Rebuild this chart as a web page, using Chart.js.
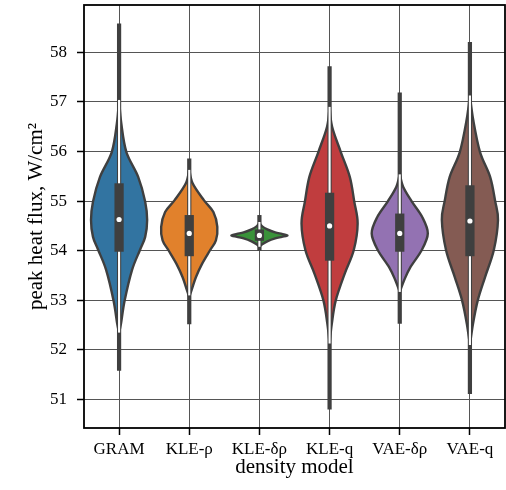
<!DOCTYPE html>
<html><head><meta charset="utf-8">
<script src="https://cdn.jsdelivr.net/npm/chart.js@4.4.0/dist/chart.umd.min.js"></script>
<style>html,body{margin:0;padding:0;background:#fff}</style>
</head><body>
<canvas id="c" width="506" height="490"></canvas>
<script>
// ---- data ----
const categories = ['GRAM', 'KLE-ρ', 'KLE-δρ', 'KLE-q', 'VAE-δρ', 'VAE-q'];
const medians   = [54.63, 54.35, 54.31, 54.50, 54.35, 54.60];
const q1        = [53.98, 53.89, 54.20, 53.80, 53.98, 53.89];
const q3        = [55.36, 54.72, 54.43, 55.17, 54.75, 55.32];
const innerLow  = [52.35, 53.10, 54.08, 52.13, 53.17, 52.10];
const innerHigh = [57.04, 55.63, 54.58, 56.90, 55.54, 57.13];
const dataMin   = [51.58, 52.52, 54.00, 50.80, 52.53, 51.11];
const dataMax   = [58.58, 55.86, 54.72, 57.72, 57.19, 58.21];
const yTicks    = [51, 52, 53, 54, 55, 56, 57, 58];

// violin density profiles (value, relative half-width)
const gramY = [57.04, 56.56, 55.99, 55.49, 54.99, 54.62, 54.28, 54.01, 53.61, 53.00, 52.54, 52.35];
const gramW = [0, 0.08, 0.26, 0.68, 0.93, 1.0, 0.93, 0.74, 0.46, 0.20, 0.07, 0];
const klerY = [55.65, 55.36, 55.02, 54.78, 54.48, 54.21, 54.01, 53.74, 53.47, 53.20, 53.07];
const klerW = [0, 0.12, 0.52, 0.86, 1.0, 0.95, 0.74, 0.46, 0.24, 0.08, 0];
const kledY = [54.56, 54.49, 54.43, 54.37, 54.34, 54.31, 54.28, 54.25, 54.19, 54.13, 54.08];
const kledW = [0, 0.10, 0.28, 0.56, 0.80, 1.0, 0.80, 0.56, 0.28, 0.10, 0];
const kleqY = [56.90, 56.50, 55.99, 55.49, 54.99, 54.55, 54.01, 53.54, 53.00, 52.53, 52.13];
const kleqW = [0, 0.09, 0.40, 0.72, 0.88, 1.0, 0.86, 0.54, 0.22, 0.08, 0];
const vaedY = [55.55, 55.29, 55.00, 54.68, 54.35, 54.01, 53.67, 53.41, 53.17];
const vaedW = [0, 0.12, 0.42, 0.80, 1.0, 0.78, 0.38, 0.16, 0];
const vaeqY = [57.13, 56.63, 55.99, 55.49, 55.00, 54.62, 54.01, 53.47, 53.00, 52.53, 52.10];
const vaeqW = [0, 0.12, 0.36, 0.72, 0.90, 1.0, 0.85, 0.54, 0.28, 0.11, 0];

const profilesY = [gramY, klerY, kledY, kleqY, vaedY, vaeqY];
const profilesW = [gramW, klerW, kledW, kleqW, vaedW, vaeqW];
const colors = ['#3274a1', '#e1812c', '#3a923a', '#c03d3e', '#9372b2', '#845b53'];

const GRAY = '#3f3f3f';
const FONT = "'Liberation Serif', 'Times New Roman', serif";

function curveThrough(ctx, pts) {
  for (let i = 0; i < pts.length - 1; i++) {
    const p0 = pts[i - 1] || pts[i], p1 = pts[i], p2 = pts[i + 1], p3 = pts[i + 2] || pts[i + 1];
    ctx.bezierCurveTo(p1.x + (p2.x - p0.x) / 6, p1.y + (p2.y - p0.y) / 6,
                      p2.x - (p3.x - p1.x) / 6, p2.y - (p3.y - p1.y) / 6, p2.x, p2.y);
  }
}

const violinPlugin = {
  id: 'violins',
  beforeDatasetsDraw(chart) {
    const ctx = chart.ctx, xs = chart.scales.x, ys = chart.scales.y;
    const step = xs.getPixelForValue(1) - xs.getPixelForValue(0);
    const hw = step * 0.4;
    ctx.save();
    categories.forEach((c, i) => {
      const cx = xs.getPixelForValue(i);
      const Y = profilesY[i], W = profilesW[i];
      const right = Y.map((v, k) => ({ x: cx + W[k] * hw, y: ys.getPixelForValue(v) }));
      const left = Y.map((v, k) => ({ x: cx - W[k] * hw, y: ys.getPixelForValue(v) })).reverse();
      ctx.beginPath();
      ctx.moveTo(right[0].x, right[0].y);
      curveThrough(ctx, right);
      curveThrough(ctx, left);
      ctx.closePath();
      ctx.fillStyle = colors[i];
      ctx.fill();
      ctx.lineWidth = 2.4;
      ctx.lineJoin = 'round';
      ctx.strokeStyle = GRAY;
      ctx.stroke();
    });
    ctx.restore();
  },
  afterDraw(chart) {
    const a = chart.chartArea, ctx = chart.ctx;
    ctx.save();
    ctx.strokeStyle = '#000';
    ctx.lineWidth = 1.8;
    ctx.strokeRect(a.left, a.top, a.right - a.left, a.bottom - a.top);
    ctx.restore();
  }
};

new Chart(document.getElementById('c'), {
  type: 'bar',
  data: {
    labels: categories,
    datasets: [
      { label: 'median', type: 'line', data: medians, showLine: false, pointRadius: 2.6,
        pointBackgroundColor: '#ffffff', pointBorderWidth: 0, order: 1 },
      { label: 'box', data: categories.map((c, i) => [q1[i], q3[i]]), backgroundColor: GRAY,
        categoryPercentage: 1, barPercentage: 0.132, grouped: false, order: 2 },
      { label: 'inner', data: categories.map((c, i) => [innerLow[i], innerHigh[i]]), backgroundColor: '#ffffff',
        categoryPercentage: 1, barPercentage: 0.03, grouped: false, order: 3 },
      { label: 'range', data: categories.map((c, i) => [dataMin[i], dataMax[i]]), backgroundColor: GRAY,
        categoryPercentage: 1, barPercentage: 0.06, grouped: false, order: 4 }
    ]
  },
  options: {
    responsive: false,
    devicePixelRatio: 1,
    animation: false,
    layout: { autoPadding: false, padding: { top: 5, right: 1, left: 0, bottom: 0 } },
    plugins: { legend: { display: false }, tooltip: { enabled: false } },
    scales: {
      x: {
        type: 'category', offset: true,
        grid: { offset: false, color: '#555', lineWidth: 1, tickColor: '#000', tickWidth: 1.5, tickLength: 7 },
        border: { display: false },
        ticks: { color: '#000', font: { family: FONT, size: 17 }, padding: 4, maxRotation: 0 },
        title: { display: true, text: 'density model', color: '#000', font: { family: FONT, size: 21 },
                 padding: { top: 0, bottom: 10 } },
        afterFit(s) { s.height = 62; s.paddingLeft = 0; s.paddingRight = 0; }
      },
      y: {
        type: 'linear', min: 50.427, max: 58.954,
        afterBuildTicks(s) { s.ticks = yTicks.map(v => ({ value: v })); },
        grid: { color: '#555', lineWidth: 1, tickColor: '#000', tickWidth: 1.5, tickLength: 7 },
        border: { display: false },
        ticks: { color: '#000', font: { family: FONT, size: 17 }, padding: 10 },
        title: { display: true, text: 'peak heat flux, W/cm²', color: '#000', font: { family: FONT, size: 21 },
                 padding: { top: 24, bottom: 0 } },
        afterFit(s) { s.width = 84; s.paddingTop = 0; s.paddingBottom = 0; }
      }
    }
  },
  plugins: [violinPlugin]
});
</script></body></html>
